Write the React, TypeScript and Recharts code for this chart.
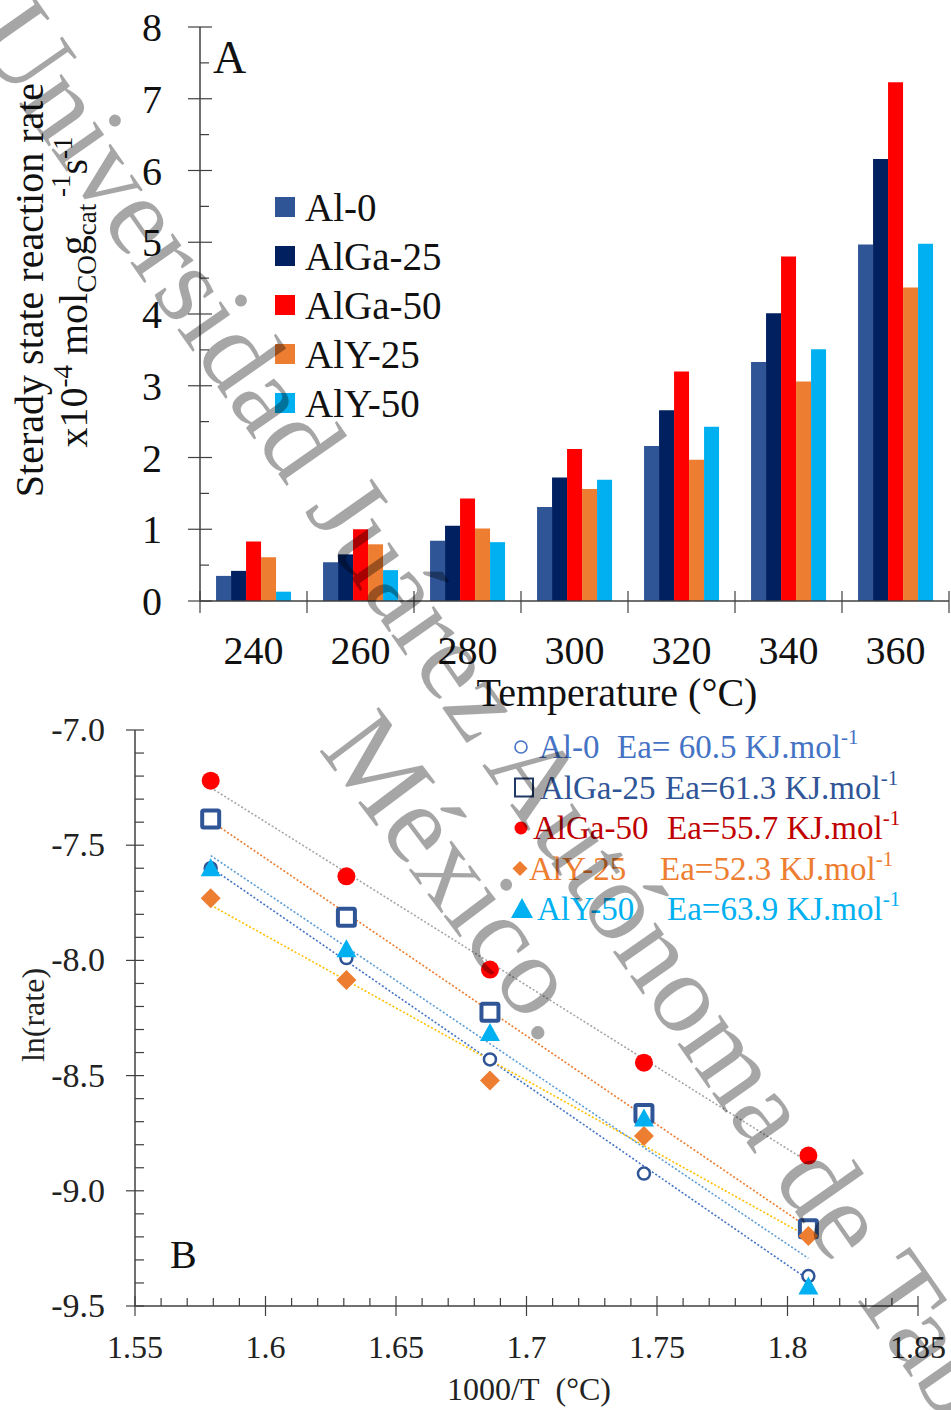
import React from 'react';
import { BarChart, Bar, XAxis, YAxis, Legend, ScatterChart, Scatter, ReferenceLine } from 'recharts';

const SERIF = '"Liberation Serif", "Times New Roman", serif';

// Panel A: steady state rate (x10^-4 mol/g/s) per temperature
const temperatures = ['240', '260', '280', '300', '320', '340', '360'];
const rateAl0 = [0.35, 0.54, 0.84, 1.31, 2.16, 3.33, 4.97];
const rateAlGa25 = [0.42, 0.65, 1.05, 1.72, 2.66, 4.01, 6.16];
const rateAlGa50 = [0.83, 1.0, 1.43, 2.12, 3.2, 4.8, 7.23];
const rateAlY25 = [0.61, 0.79, 1.01, 1.56, 1.97, 3.06, 4.37];
const rateAlY50 = [0.13, 0.43, 0.82, 1.69, 2.43, 3.51, 4.98];
const rateTicks = [0, 0.5, 1, 1.5, 2, 2.5, 3, 3.5, 4, 4.5, 5, 5.5, 6, 6.5, 7, 7.5, 8];

const seriesNames = ['Al-0', 'AlGa-25', 'AlGa-50', 'AlY-25', 'AlY-50'];
const seriesKeys = ['al0', 'alGa25', 'alGa50', 'alY25', 'alY50'];
const barColors = ['#2F5597', '#002060', '#FF0000', '#ED7D31', '#00B0F0'];

// Panel B: Arrhenius plot
const invTemp = [1.579, 1.631, 1.686, 1.745, 1.808];
const lnAl0 = [-7.6, -7.99, -8.43, -8.925, -9.37];
const lnAlGa25 = [-7.386, -7.813, -8.225, -8.665, -9.165];
const lnAlGa50 = [-7.22, -7.635, -8.04, -8.444, -8.847];
const lnAlY25 = [-7.73, -8.085, -8.521, -8.762, -9.196];
const lnAlY50 = [-7.6, -7.952, -8.315, -8.686, -9.415];

// trend lines, read at the first and last point
const fitX = [1.579, 1.808];
const fitAl0 = [-7.597, -9.385];
const fitAlGa25 = [-7.395, -9.16];
const fitAlGa50 = [-7.25, -8.875];
const fitAlY25 = [-7.76, -9.2];
const fitAlY50 = [-7.545, -9.293];

const eaLabels = ['Ea= 60.5', 'Ea=61.3', 'Ea=55.7', 'Ea=52.3', 'Ea=63.9'];

const barData = temperatures.map((t, i) => ({
  t,
  al0: rateAl0[i],
  alGa25: rateAlGa25[i],
  alGa50: rateAlGa50[i],
  alY25: rateAlY25[i],
  alY50: rateAlY50[i],
}));

const lnSeries = [lnAl0, lnAlGa25, lnAlGa50, lnAlY25, lnAlY50];
const fitSeries = [fitAl0, fitAlGa25, fitAlGa50, fitAlY25, fitAlY50];
const markerColors = ['#2F5597', '#2F5597', '#FF0000', '#ED7D31', '#00B0F0'];
const fitColors = ['#4472C4', '#ED7D31', '#A5A5A5', '#FFC000', '#5B9BD5'];
const legendTextColors = ['#4472C4', '#2F5597', '#C00000', '#ED7D31', '#00B0F0'];

// minor tick positions (every 0.01 / 0.1)
const invTempAllTicks: number[] = [];
for (let k = 0; k <= 30; k++) invTempAllTicks.push(Math.round((1.55 + k * 0.01) * 100) / 100);
const lnAllTicks: number[] = [];
for (let k = 0; k <= 25; k++) lnAllTicks.push(Math.round((-9.5 + k * 0.1) * 10) / 10);

const BAND_A = (949 - 200) / temperatures.length;
const AXIS = '#404040';

const TempTick = (props: any) => {
  const { x, y, payload, index } = props;
  const half = BAND_A / 2;
  return (
    <g>
      <line x1={x - half} x2={x - half} y1={y - 10} y2={y + 12} stroke={AXIS} strokeWidth={1.2} />
      {index === temperatures.length - 1 && (
        <line x1={x + half} x2={x + half} y1={y - 10} y2={y + 12} stroke={AXIS} strokeWidth={1.2} />
      )}
      <text x={x} y={y + 63} textAnchor="middle" fontSize={40} fontFamily={SERIF} fill="#111">
        {payload.value}
      </text>
    </g>
  );
};

const RateTick = (props: any) => {
  const { x, y, payload } = props;
  const major = Number.isInteger(payload.value);
  return (
    <g>
      <line x1={major ? x - 12 : x} x2={x + (major ? 12 : 9)} y1={y} y2={y} stroke={AXIS} strokeWidth={1.2} />
      {major && (
        <text x={x - 38} y={y + 14} textAnchor="end" fontSize={40} fontFamily={SERIF} fill="#111">
          {payload.value}
        </text>
      )}
    </g>
  );
};

const InvTTick = (props: any) => {
  const { x, y, payload } = props;
  const v = payload.value;
  const major = Math.abs(v * 20 - Math.round(v * 20)) < 1e-6;
  return (
    <g>
      <line x1={x} x2={x} y1={y - (major ? 10 : 8)} y2={major ? y + 10 : y} stroke={AXIS} strokeWidth={1.2} />
      {major && (
        <text x={x} y={y + 52} textAnchor="middle" fontSize={32} fontFamily={SERIF} fill="#222">
          {String(+v.toFixed(2))}
        </text>
      )}
    </g>
  );
};

const LnTick = (props: any) => {
  const { x, y, payload } = props;
  const v = payload.value;
  const major = Math.abs(v * 2 - Math.round(v * 2)) < 1e-6;
  return (
    <g>
      <line x1={major ? x - 9 : x} x2={x + 9} y1={y} y2={y} stroke={AXIS} strokeWidth={1.2} />
      {major && (
        <text x={x - 30} y={y + 11} textAnchor="end" fontSize={34} fontFamily={SERIF} fill="#222">
          {v.toFixed(1)}
        </text>
      )}
    </g>
  );
};

const Marker = ({ kind, cx, cy }: { kind: number; cx: number; cy: number }) => {
  const c = markerColors[kind];
  if (kind === 0) return <circle cx={cx} cy={cy} r={6} fill="#fff" stroke={c} strokeWidth={2.5} />;
  if (kind === 1) return <rect x={cx - 8.5} y={cy - 8.5} width={17} height={17} fill="#fff" stroke={c} strokeWidth={4} rx={1.5} />;
  if (kind === 2) return <circle cx={cx} cy={cy} r={9} fill={c} />;
  if (kind === 3) return <polygon points={`${cx},${cy - 10} ${cx + 10},${cy} ${cx},${cy + 10} ${cx - 10},${cy}`} fill={c} />;
  return <polygon points={`${cx},${cy - 10} ${cx + 10},${cy + 8} ${cx - 10},${cy + 8}`} fill={c} />;
};

// small symbols typed in front of the legend entries of panel B
const LegendSymbol = ({ kind, cx, cy }: { kind: number; cx: number; cy: number }) => {
  if (kind === 0) return <circle cx={cx} cy={cy} r={6} fill="none" stroke="#4472C4" strokeWidth={1.6} />;
  if (kind === 1) return <rect x={cx - 9} y={cy - 9} width={18} height={18} fill="none" stroke="#203864" strokeWidth={2} />;
  if (kind === 2) return <circle cx={cx} cy={cy} r={6.5} fill="#FF0000" />;
  if (kind === 3) return <polygon points={`${cx},${cy - 7.5} ${cx + 7.5},${cy} ${cx},${cy + 7.5} ${cx - 7.5},${cy}`} fill="#ED7D31" />;
  return <polygon points={`${cx},${cy - 11} ${cx + 11},${cy + 9} ${cx - 11},${cy + 9}`} fill="#00B0F0" />;
};

const LegendA = () => (
  <svg width={220} height={250} style={{ overflow: 'visible' }}>
    {seriesNames.map((name, i) => (
      <g key={name}>
        <rect x={5} y={12 + i * 49} width={20} height={20} fill={barColors[i]} />
        <text x={35} y={36 + i * 49} fontSize={39} fontFamily={SERIF} fill="#111">
          {name}
        </text>
      </g>
    ))}
  </svg>
);

const nameX = [41, 42, 35, 31, 39];
const eaX = [119, 167, 169, 162, 169];
const symbolX = [23, 26, 23, 22, 24];

const LegendB = () => (
  <svg width={430} height={220} style={{ overflow: 'visible' }}>
    {seriesNames.map((name, i) => {
      const base = 38 + i * 40.5;
      const col = legendTextColors[i];
      return (
        <g key={name}>
          <LegendSymbol kind={i} cx={symbolX[i]} cy={base - 11} />
          <text x={nameX[i]} y={base} fontSize={33} fontFamily={SERIF} fill={col}>
            {name}
          </text>
          <text x={eaX[i]} y={base} fontSize={33} fontFamily={SERIF} fill={col}>
            {eaLabels[i]} KJ.mol
            <tspan fontSize={21} dy={-14}>
              -1
            </tspan>
          </text>
        </g>
      );
    })}
  </svg>
);

export default function App() {
  return (
    <div style={{ position: 'absolute', left: 0, top: 0, width: 951, height: 1410, background: '#fff', overflow: 'hidden' }}>
      <div style={{ position: 'absolute', left: 0, top: 0 }}>
        <BarChart
          width={951}
          height={720}
          data={barData}
          margin={{ top: 27, right: 2, bottom: 59, left: 140 }}
          barCategoryGap="15%"
          barGap={0}
        >
          <XAxis
            dataKey="t"
            height={60}
            interval={0}
            tickSize={0}
            tickMargin={0}
            tickLine={false}
            axisLine={{ stroke: AXIS, strokeWidth: 1.5 }}
            tick={(p: any) => <TempTick {...p} />}
          />
          <XAxis xAxisId="frame" dataKey="t" orientation="top" height={0} tick={false} tickLine={false} axisLine={{ stroke: '#7f7f7f', strokeWidth: 1.5 }} />
          <YAxis
            domain={[0, 8]}
            ticks={rateTicks}
            interval={0}
            width={60}
            tickSize={0}
            tickMargin={0}
            tickLine={false}
            axisLine={{ stroke: AXIS, strokeWidth: 1.5 }}
            tick={(p: any) => <RateTick {...p} />}
          />
          <YAxis yAxisId="frame" orientation="right" domain={[0, 8]} width={0} tick={false} tickLine={false} axisLine={{ stroke: '#7f7f7f', strokeWidth: 1.5 }} />
          <Legend layout="vertical" align="center" verticalAlign="middle" wrapperStyle={{ left: 270, top: 185, width: 220 }} content={() => <LegendA />} />
          {seriesKeys.map((k, i) => (
            <Bar key={k} dataKey={k} name={seriesNames[i]} fill={barColors[i]} isAnimationActive={false} />
          ))}
        </BarChart>
      </div>

      <div style={{ position: 'absolute', left: 0, top: 700 }}>
        <ScatterChart width={951} height={710} margin={{ top: 30, right: 33, bottom: 44, left: 75 }}>
          <XAxis
            type="number"
            dataKey="x"
            domain={[1.55, 1.85]}
            ticks={invTempAllTicks}
            interval={0}
            height={60}
            tickSize={0}
            tickMargin={0}
            tickLine={false}
            allowDataOverflow
            axisLine={{ stroke: AXIS, strokeWidth: 1.5 }}
            tick={(p: any) => <InvTTick {...p} />}
          />
          <XAxis xAxisId="frame" type="number" orientation="top" domain={[1.55, 1.85]} height={0} tick={false} tickLine={false} axisLine={{ stroke: '#7f7f7f', strokeWidth: 1.5 }} />
          <YAxis
            type="number"
            dataKey="y"
            domain={[-9.5, -7]}
            ticks={lnAllTicks}
            interval={0}
            width={60}
            tickSize={0}
            tickMargin={0}
            tickLine={false}
            allowDataOverflow
            axisLine={{ stroke: AXIS, strokeWidth: 1.5 }}
            tick={(p: any) => <LnTick {...p} />}
          />
          <YAxis yAxisId="frame" type="number" orientation="right" domain={[-9.5, -7]} width={0} tick={false} tickLine={false} axisLine={{ stroke: '#7f7f7f', strokeWidth: 1.5 }} />
          {fitSeries.map((f, i) => (
            <ReferenceLine
              key={'fit' + i}
              segment={[
                { x: fitX[0], y: f[0] },
                { x: fitX[1], y: f[1] },
              ]}
              stroke={fitColors[i]}
              strokeWidth={1.6}
              strokeDasharray="2 2"
            />
          ))}
          {lnSeries.map((ys, i) => (
            <Scatter
              key={seriesNames[i]}
              name={seriesNames[i]}
              data={invTemp.map((x, j) => ({ x, y: ys[j] }))}
              isAnimationActive={false}
              shape={(p: any) => <Marker kind={i} cx={p.cx} cy={p.cy} />}
            />
          ))}
          <Legend layout="vertical" align="center" verticalAlign="middle" wrapperStyle={{ left: 498, top: 20, width: 430 }} content={() => <LegendB />} />
        </ScatterChart>
      </div>

      <svg width={951} height={1410} style={{ position: 'absolute', left: 0, top: 0, pointerEvents: 'none' }} fontFamily={SERIF}>
        <text x={213} y={73} fontSize={46} fill="#111">A</text>
        <text x={170} y={1268} fontSize={40} fill="#111">B</text>
        <text x={617} y={706} fontSize={40} textAnchor="middle" fill="#111">Temperature (°C)</text>
        <text x={529} y={1400} fontSize={32} textAnchor="middle" fill="#222">1000/T{'\u00A0 '}(°C)</text>
        <text x={44} y={1015} fontSize={32} textAnchor="middle" fill="#222" transform="rotate(-90 44 1015)">ln(rate)</text>
        <text x={43} y={290} fontSize={40} textAnchor="middle" fill="#111" transform="rotate(-90 43 290)">
          Sterady state reaction rate
        </text>
        <text x={87} y={292} fontSize={40} textAnchor="middle" fill="#111" transform="rotate(-90 87 292)">
          x10
          <tspan fontSize={27} dy={-15}>-4</tspan>
          <tspan dy={15}> mol</tspan>
          <tspan fontSize={27} dy={9}>CO</tspan>
          <tspan dy={-9}>g</tspan>
          <tspan fontSize={27} dy={9}>cat</tspan>
          <tspan fontSize={27} dy={-26}> -1</tspan>
          <tspan dy={17}>s</tspan>
          <tspan fontSize={27} dy={-15}>-1</tspan>
        </text>
        <g fill="#000" fillOpacity={0.35} fontSize={113}>
          <text x={515} y={812} textAnchor="middle" transform="rotate(55 515 812)">
            Universidad Juárez Autónoma de Tabasco
          </text>
          <text x={430} y={898} textAnchor="middle" transform="rotate(53 430 898)">
            México.
          </text>
        </g>
      </svg>
    </div>
  );
}
